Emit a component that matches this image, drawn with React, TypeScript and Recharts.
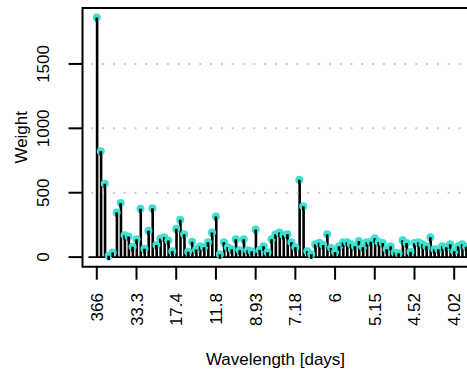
import React from "react";
import {
  ComposedChart,
  Bar,
  Scatter,
  XAxis,
  YAxis,
  ReferenceLine,
  ReferenceArea,
} from "recharts";

// periodogram index k (wavelength = 366 / k days)
const weights: number[] = [
  1860, 823, 569, 10, 35, 346, 420, 170, 160, 80,
  138, 375, 65, 205, 380, 95, 145, 155, 130, 46,
  220, 290, 177, 42, 120, 60, 85, 77, 115, 192,
  315, 23, 115, 77, 62, 138, 54, 138, 54, 46,
  215, 55, 85, 38, 138, 177, 192, 169, 177, 115,
  77, 600, 395, 46, 23, 100, 112, 95, 177, 70,
  40, 85, 115, 115, 100, 85, 125, 77, 115, 120,
  146, 118, 110, 62, 85, 35, 30, 131, 110, 42,
  110, 115, 100, 85, 154, 62, 62, 85, 77, 100,
  46, 85, 100, 80,
];

const xTickIndex: number[] = [1, 11, 21, 31, 41, 51, 61, 71, 81, 91];
const xTickLabels: string[] = ["366", "33.3", "17.4", "11.8", "8.93", "7.18", "6", "5.15", "4.52", "4.02"];
const yTicks: number[] = [0, 500, 1000, 1500];
const gridValues: number[] = [500, 1000, 1500];

const data = weights.map((w, i) => ({ k: i + 1, w }));

const X_DOMAIN: [number, number] = [-2.6, 94.6];
const Y_DOMAIN: [number, number] = [-74.4, 1934.4];

const FONT = "'Liberation Sans', Arial, Helvetica, sans-serif";

const XTick = (props: any) => {
  const { x, y, payload } = props;
  const idx = xTickIndex.indexOf(payload.value);
  const label = idx >= 0 ? xTickLabels[idx] : String(payload.value);
  const tx = x + 6;
  const ty = y + 11.3;
  return (
    <text
      x={tx}
      y={ty}
      transform={`rotate(-90, ${tx}, ${ty})`}
      textAnchor="end"
      fontFamily={FONT}
      fontSize={17}
      fill="#000"
    >
      {label}
    </text>
  );
};

const YTick = (props: any) => {
  const { x, y, payload } = props;
  const tx = x - 17.2;
  return (
    <text
      x={tx}
      y={y}
      transform={`rotate(-90, ${tx}, ${y})`}
      textAnchor="middle"
      fontFamily={FONT}
      fontSize={17}
      fill="#000"
    >
      {payload.value}
    </text>
  );
};

// point with the spike's top passing through its centre (spike drawn over the point)
const Dot = (props: any) => {
  const { cx, cy } = props;
  if (cx == null || cy == null) return null;
  return (
    <g>
      <circle cx={cx} cy={cy} r={4} fill="#40E0D0" />
      <line x1={cx} y1={cy} x2={cx} y2={cy + 4.5} stroke="#000" strokeWidth={2.6} />
    </g>
  );
};

export default function App() {
  return (
    <div
      style={{
        position: "absolute",
        left: 0,
        top: 0,
        width: 467,
        height: 372,
        overflow: "hidden",
        background: "#fff",
      }}
    >
      <ComposedChart
        width={470}
        height={372}
        data={data}
        margin={{ top: 8, right: 1.5, bottom: 0, left: 0 }}
      >
        <XAxis
          dataKey="k"
          type="number"
          domain={X_DOMAIN}
          allowDataOverflow
          ticks={xTickIndex}
          interval={0}
          height={105.3}
          tickSize={13}
          tickMargin={2}
          tick={<XTick />}
          tickLine={{ stroke: "#000", strokeWidth: 2 }}
          axisLine={false}
        />
        <YAxis
          type="number"
          domain={Y_DOMAIN}
          allowDataOverflow
          ticks={yTicks}
          interval={0}
          width={82.5}
          tickSize={14}
          tickMargin={2}
          tick={<YTick />}
          tickLine={{ stroke: "#000", strokeWidth: 2 }}
          axisLine={false}
        />
        {gridValues.map((v) => (
          <ReferenceLine
            key={v}
            y={v}
            stroke="#c8c8c8"
            strokeWidth={2}
            strokeDasharray="2 8.8"
            strokeDashoffset={2}
          />
        ))}
        <ReferenceLine
          segment={[
            { x: -1.1, y: 0 },
            { x: X_DOMAIN[1], y: 0 },
          ]}
          stroke="#000"
          strokeWidth={1.7}
        />
        <Bar dataKey="w" barSize={2.6} fill="#000" isAnimationActive={false} />
        <Scatter dataKey="w" shape={<Dot />} isAnimationActive={false} />
        <ReferenceArea
          x1={X_DOMAIN[0]}
          x2={X_DOMAIN[1]}
          y1={Y_DOMAIN[0]}
          y2={Y_DOMAIN[1]}
          fill="none"
          stroke="#000"
          strokeWidth={2}
          ifOverflow="visible"
        />
        <text
          x={275.5}
          y={365}
          textAnchor="middle"
          fontFamily={FONT}
          fontSize={17}
          fill="#000"
        >
          Wavelength [days]
        </text>
        <text
          x={27.5}
          y={137.3}
          transform="rotate(-90, 27.5, 137.3)"
          textAnchor="middle"
          fontFamily={FONT}
          fontSize={17}
          fill="#000"
        >
          Weight
        </text>
      </ComposedChart>
    </div>
  );
}
